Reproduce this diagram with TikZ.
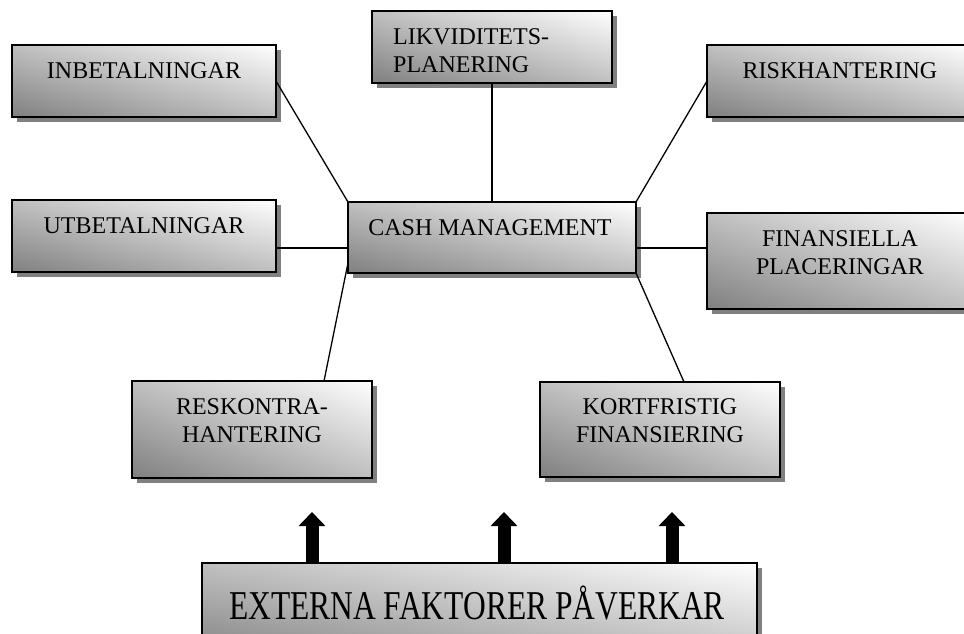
\documentclass[tikz,border=0pt]{standalone}
\usepackage{fontspec}
\setmainfont{Liberation Serif}
\usepackage{graphicx}
\usetikzlibrary{shadows,arrows.meta}
\pgfdeclareverticalshading{cmgrad}{100bp}{color(0bp)=(black!50); color(100bp)=(white)}
\newcommand{\diagshade}{%
  \pgfpointanchor{path picture bounding box}{south west}\pgfgetlastxy{\xa}{\ya}%
  \pgfpointanchor{path picture bounding box}{north east}\pgfgetlastxy{\xb}{\yb}%
  \pgfmathsetmacro{\sa}{(\xb-\xa)/100}%
  \pgfmathsetmacro{\sb}{(\yb-\ya)/100}%
  \pgftransformshift{\pgfpoint{(\xa+\xb)/2}{(\ya+\yb)/2}}%
  \pgftransformcm{\sa}{-\sb}{\sa}{\sb}{\pgfpointorigin}%
  \pgflowlevelsynccm
  \pgfuseshading{cmgrad}}
\begin{document}
\begin{tikzpicture}[x=1pt,y=-1pt,
  cbox/.style={draw=black, line width=1.3pt, inner sep=0pt, outer sep=0pt, anchor=north west,
    fill=white, path picture={\diagshade},
    drop shadow={shadow xshift=5pt, shadow yshift=-5pt, fill=black!50, opacity=1}},
  lbl/.style={font=\fontsize{24}{27.5}\selectfont, align=center, anchor=base, inner sep=0pt},
  conn/.style={line width=1.3pt},
  barrow/.style={line width=13pt, -{Triangle[width=26pt,length=14pt]}}]
\useasboundingbox (0,0) rectangle (964,633);
\clip (0,0) rectangle (964,633);
% boxes
\node[cbox, minimum width=264pt, minimum height=72pt] (inb) at (12,45) {};
\node[cbox, minimum width=240pt, minimum height=72pt] (liq) at (372,11) {};
\node[cbox, minimum width=266pt, minimum height=72pt] (risk) at (707,45) {};
\node[cbox, minimum width=264pt, minimum height=72pt] (utb) at (12,200) {};
\node[cbox, minimum width=288pt, minimum height=71pt] (cash) at (348,202) {};
\node[cbox, minimum width=266pt, minimum height=96pt] (fin) at (707,213) {};
\node[cbox, minimum width=240pt, minimum height=97pt] (resk) at (132,381) {};
\node[cbox, minimum width=240pt, minimum height=95pt] (kort) at (540,382) {};
\node[cbox, minimum width=555pt, minimum height=100pt] (ext) at (202,563) {};
% connectors
\coordinate (h) at (0,248);
\draw[conn] (inb.east) -- (cash.north west);
\draw[conn] (liq.south) -- (cash.north);
\draw[conn] (cash.north east) -- (risk.west);
\draw[conn] (utb.east |- h) -- (cash.west |- h);
\draw[conn] (cash.east |- h) -- (fin.west |- h);
\draw[conn] ([yshift=10pt]cash.south west) -- ([xshift=72pt]resk.north);
\draw[conn] (cash.south east) -- ([xshift=24pt]kort.north);
% labels
\node[lbl] (tinb) at (144,78) {INBETALNINGAR};
\node[lbl] (tutb) at (144,233) {UTBETALNINGAR};
\node[lbl] (tcash) at (490,235) {CASH MANAGEMENT};
\node[lbl] (trisk) at (840,78) {RISKHANTERING};
\node[lbl] (tfin) at (840,274) {FINANSIELLA\\PLACERINGAR};
\node[lbl] (tresk) at (252,442) {RESKONTRA-\\HANTERING};
\node[lbl] (tkort) at (660,442) {KORTFRISTIG\\FINANSIERING};
\node[lbl, align=left, anchor=base west] (tliq) at (393,72) {LIKVIDITETS-\\PLANERING};
\node[lbl, font=\fontsize{31.5}{36}\selectfont] (text) at (477,619) {\scalebox{1}[1.3]{EXTERNA FAKTORER PÅVERKAR}};
% block arrows
\coordinate (a1) at (312,512);
\coordinate (a2) at (504,512);
\coordinate (a3) at (672,512);
\draw[barrow] (a1 |- ext.north) -- (a1);
\draw[barrow] (a2 |- ext.north) -- (a2);
\draw[barrow] (a3 |- ext.north) -- (a3);
\end{tikzpicture}
\end{document}
